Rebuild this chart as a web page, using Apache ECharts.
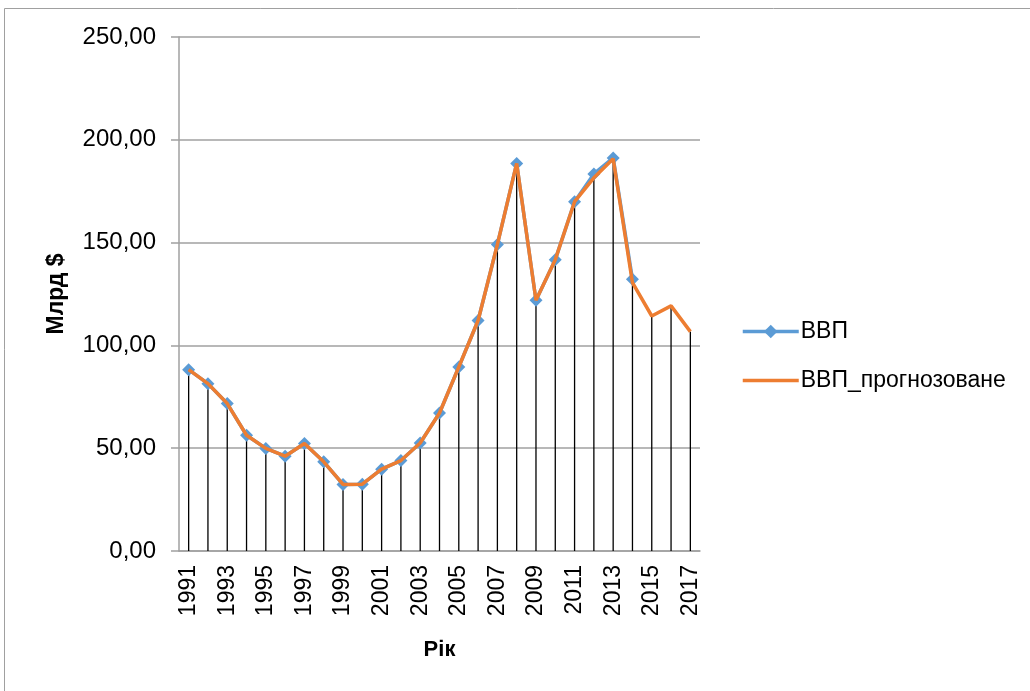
<!DOCTYPE html>
<html>
<head>
<meta charset="utf-8">
<script src="https://cdn.jsdelivr.net/npm/echarts@6/dist/echarts.min.js"></script>
<style>
html,body{margin:0;padding:0;background:#fff;}
#chart{width:1030px;height:691px;}
</style>
</head>
<body>
<div id="chart"></div>
<script>
// Data
const years = ['1991','1992','1993','1994','1995','1996','1997','1998','1999','2000','2001','2002','2003','2004','2005','2006','2007','2008','2009','2010','2011','2012','2013','2014','2015','2016','2017'];
const gdp = [88.2, 81.4, 71.7, 56.3, 49.9, 46.1, 52.3, 43.4, 32.4, 32.5, 39.8, 44.0, 52.5, 67.1, 89.5, 112.1, 149.1, 188.5, 121.9, 141.7, 169.9, 183.4, 191.2, 132.2, null, null, null];
const gdpForecast = [88.2, 81.4, 71.7, 56.3, 49.9, 46.1, 52.3, 43.4, 32.4, 32.5, 39.8, 44.0, 52.5, 67.1, 89.5, 112.1, 149.1, 188.5, 121.9, 141.7, 169.9, 181.5, 190.8, 130.5, 114.3, 119.2, 106.7];
const yTicks = [0, 50, 100, 150, 200, 250];
const seriesNames = ['ВВП', 'ВВП_прогнозоване'];

const FONT = 'Liberation Sans';
const chart = echarts.init(document.getElementById('chart'));
const dropLines = gdpForecast.map((v, i) => Math.max(v == null ? 0 : v, gdp[i] == null ? 0 : gdp[i]));

chart.setOption({
  animation: false,
  backgroundColor: '#fff',
  textStyle: { fontFamily: FONT },
  graphic: [
    { type: 'line', shape: { x1: 4.5, y1: 8.5, x2: 1030, y2: 8.5 }, style: { stroke: '#a0a0a0', lineWidth: 1 } },
    { type: 'line', shape: { x1: 4.5, y1: 8.5, x2: 4.5, y2: 691 }, style: { stroke: '#a0a0a0', lineWidth: 1 } }
  ],
  grid: { left: 179, right: 330, top: 37, bottom: 140, containLabel: false },
  legend: {
    orient: 'vertical',
    left: 736,
    top: 314,
    itemWidth: 56,
    itemHeight: 17,
    itemGap: 24,
    lineStyle: { width: 3.5 },
    data: [
      { name: seriesNames[0] },
      { name: seriesNames[1], itemStyle: { opacity: 0 } }
    ],
    textStyle: { fontFamily: FONT, fontSize: 23, color: '#000', lineHeight: 25, padding: [0, 0, 0, -3] }
  },
  xAxis: {
    type: 'category',
    data: years,
    boundaryGap: true,
    name: 'Рік',
    nameLocation: 'middle',
    nameGap: 88,
    nameTextStyle: { fontFamily: FONT, fontSize: 22, fontWeight: 'bold', color: '#000' },
    axisLine: { lineStyle: { color: '#a0a0a0', width: 1.5 } },
    axisTick: { show: false },
    axisLabel: { interval: 1, rotate: 90, margin: 14, fontSize: 23, color: '#000', fontFamily: FONT }
  },
  yAxis: {
    type: 'value',
    min: yTicks[0],
    max: yTicks[yTicks.length - 1],
    interval: 50,
    name: 'Млрд $',
    nameLocation: 'middle',
    nameGap: 111,
    nameRotate: 90,
    nameTextStyle: { fontFamily: FONT, fontSize: 23, fontWeight: 'bold', color: '#000' },
    axisLine: { show: true, lineStyle: { color: '#a0a0a0', width: 1.5 } },
    axisTick: { show: true, length: 8, lineStyle: { color: '#a0a0a0', width: 1.5 } },
    splitLine: { lineStyle: { color: '#a0a0a0', width: 1.5 } },
    axisLabel: {
      margin: 23, fontSize: 24, color: '#000', fontFamily: FONT,
      formatter: v => v.toFixed(2).replace('.', ',')
    }
  },
  series: [
    {
      name: 'drop',
      type: 'bar',
      data: dropLines,
      barWidth: 1.3,
      itemStyle: { color: '#000' },
      silent: true,
      z: 1
    },
    {
      name: seriesNames[0],
      type: 'line',
      data: gdp,
      symbol: 'diamond',
      symbolSize: 13,
      showAllSymbol: true,
      lineStyle: { color: '#5B9BD5', width: 3.5 },
      itemStyle: { color: '#5B9BD5' },
      z: 3
    },
    {
      name: seriesNames[1],
      type: 'line',
      data: gdpForecast,
      symbol: 'none',
      lineStyle: { color: '#ED7D31', width: 3.5 },
      itemStyle: { color: '#ED7D31' },
      z: 4
    }
  ]
});
</script>
</body>
</html>
